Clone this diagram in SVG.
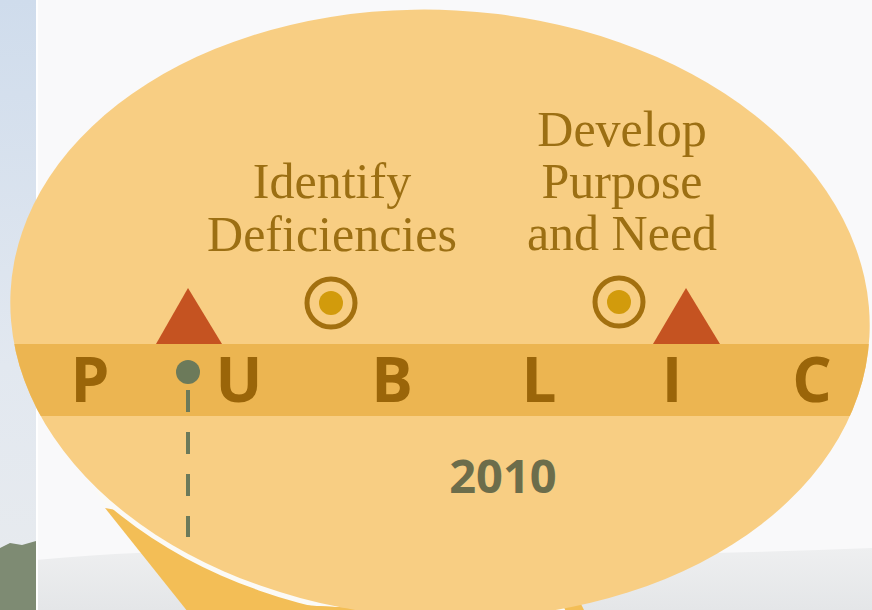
<svg xmlns="http://www.w3.org/2000/svg" width="872" height="610" viewBox="0 0 872 610">
<defs>
<style>
.lbl{font-family:"Liberation Serif","DejaVu Serif",serif;font-size:50px;fill:#9C6F13;text-anchor:middle}
.pub{font-family:"Open Sans","Liberation Sans",sans-serif;font-weight:700;font-size:62px;fill:#9A6509;text-anchor:middle}
.yr{font-family:"Open Sans","Liberation Sans",sans-serif;font-weight:700;font-size:47px;fill:#6C6D4B;text-anchor:middle}
.tri{fill:#C55321}
.ring{fill:none;stroke:#A3700F;stroke-width:5}
.dot{fill:#D29B0C}
</style>
<linearGradient id="sky" x1="0" y1="0" x2="0" y2="1">
<stop offset="0" stop-color="#CFDCEC"/>
<stop offset="0.6" stop-color="#E2E8F0"/>
<stop offset="1" stop-color="#E8EBEE"/>
</linearGradient>
<linearGradient id="ground" x1="0" y1="0" x2="0" y2="1">
<stop offset="0" stop-color="#EEEFF0"/>
<stop offset="1" stop-color="#E4E6E8"/>
</linearGradient>
<clipPath id="tailClip"><path d="M105,508 L188,612 L585,612 L575,592 Z"/></clipPath>
<clipPath id="ellClip"><ellipse cx="440" cy="314" rx="430" ry="304" transform="rotate(3 440 314)"/></clipPath>
</defs>
<g id="background">
<rect x="0" y="0" width="872" height="610" fill="#F9F9FA"/>
<path d="M36,560 Q200,545 400,552 T872,548 L872,610 L36,610 Z" fill="url(#ground)"/>
<rect x="0" y="0" width="36" height="610" fill="url(#sky)"/>
<path d="M0,548 L10,543 L22,545 L36,541 L36,610 L0,610 Z" fill="#7E8B73"/>
<rect x="36" y="0" width="2" height="610" fill="#FFFFFF"/>
</g>
<g id="bubble">
<path d="M105,508 L188,612 L585,612 L575,592 Z" fill="#F3BE56"/>
<ellipse cx="440" cy="314" rx="435" ry="309" transform="rotate(3 440 314)" fill="#FBFAF6" clip-path="url(#tailClip)"/>
<ellipse cx="440" cy="314" rx="430" ry="304" transform="rotate(3 440 314)" fill="#F8CE83"/>
<rect x="0" y="344" width="872" height="72" fill="#ECB551" clip-path="url(#ellClip)"/>
</g>
<g id="word-public">
<text class="pub" x="90" y="402">P</text>
<text class="pub" x="239" y="402">U</text>
<text class="pub" x="392" y="402">B</text>
<text class="pub" x="539" y="402">L</text>
<text class="pub" x="672" y="402">I</text>
<text class="pub" x="812" y="402">C</text>
</g>
<g id="connectors">
<line x1="188" y1="390" x2="188" y2="537" stroke="#6C7A5A" stroke-width="4" stroke-dasharray="22 20"/>
</g>
<g id="marker-start">
<circle cx="188" cy="372" r="12" fill="#6C7A5A"/>
</g>
<g id="triangle-left"><polygon class="tri" points="188,288 156,344 222,344"/></g>
<g id="triangle-right"><polygon class="tri" points="686,288 653,344 720,344"/></g>
<g id="node-identify">
<circle class="ring" cx="331" cy="303" r="24"/>
<circle class="dot" cx="331" cy="303" r="12"/>
<text class="lbl" x="332" y="198">Identify</text>
<text class="lbl" x="332" y="251">Deficiencies</text>
</g>
<g id="node-develop">
<circle class="ring" cx="619" cy="302" r="24"/>
<circle class="dot" cx="619" cy="302" r="12"/>
<text class="lbl" x="622" y="146">Develop</text>
<text class="lbl" x="622" y="198">Purpose</text>
<text class="lbl" x="622" y="250">and Need</text>
</g>
<g id="year"><text class="yr" x="503" y="493">2010</text></g>
</svg>
